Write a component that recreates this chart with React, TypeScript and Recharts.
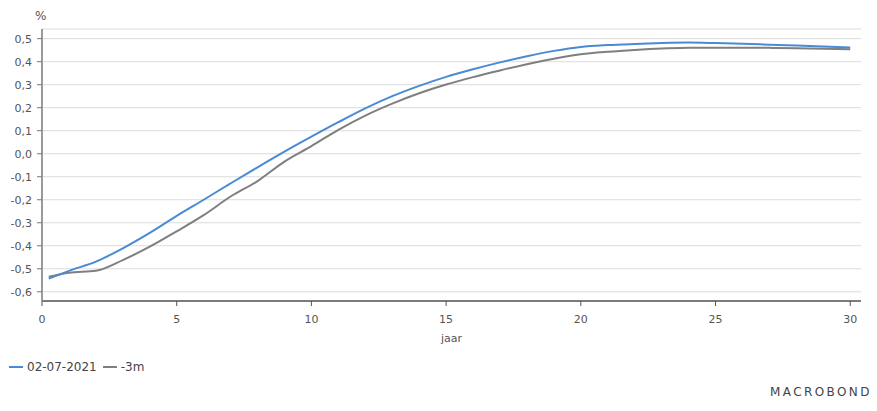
import React from 'react';
import { LineChart, Line, XAxis, YAxis, CartesianGrid } from 'recharts';

const maturities = [0.25, 1, 2, 3, 4, 5, 6, 7, 8, 9, 10, 11, 12, 13, 14, 15, 16, 17, 18, 19, 20, 21, 22, 23, 24, 25, 26, 27, 28, 29, 30];

const current = [
  -0.543, -0.509, -0.469, -0.411, -0.344, -0.27, -0.2, -0.129, -0.059, 0.009, 0.074,
  0.137, 0.197, 0.25, 0.295, 0.334, 0.367, 0.397, 0.424, 0.447, 0.464, 0.472, 0.477,
  0.481, 0.483, 0.481, 0.478, 0.474, 0.47, 0.466, 0.462,
];

const threeMonthsAgo = [
  -0.535, -0.517, -0.509, -0.462, -0.404, -0.337, -0.267, -0.186, -0.119, -0.034, 0.033,
  0.104, 0.166, 0.218, 0.263, 0.301, 0.333, 0.362, 0.389, 0.413, 0.432, 0.443, 0.451,
  0.457, 0.46, 0.461, 0.461, 0.46, 0.458, 0.456, 0.454,
];

const xTicks = [0, 5, 10, 15, 20, 25, 30];
const yTicks = [-0.6, -0.5, -0.4, -0.3, -0.2, -0.1, 0, 0.1, 0.2, 0.3, 0.4, 0.5];

const BLUE = '#4a8ad4';
const GRAY = '#7f7f7f';
const FONT = '"DejaVu Sans", Verdana, sans-serif';

const data = maturities.map((m, i) => ({
  m,
  current: current[i],
  prev: threeMonthsAgo[i],
}));

const fmt = (v: number) => v.toFixed(1).replace('.', ',');

export default function App() {
  return (
    <div style={{ position: 'absolute', left: 0, top: 0, width: 877, height: 411, fontFamily: FONT, background: '#fff' }}>
      <LineChart width={877} height={411} data={data} margin={{ top: 29, right: 16, left: 0, bottom: 80 }}>
        <CartesianGrid vertical={false} stroke="#dcdcdc" />
        <XAxis
          dataKey="m"
          type="number"
          domain={[0, 30.4]}
          ticks={xTicks}
          allowDataOverflow
          height={30}
          tickSize={5}
          tickMargin={9}
          stroke="#444"
          tick={{ fill: '#555', fontSize: 11, fontFamily: FONT }}
          axisLine={{ stroke: '#555', strokeWidth: 1.5 }}
          tickLine={{ stroke: '#555' }}
        />
        <XAxis xAxisId="top" orientation="top" type="number" domain={[0, 30.4]} height={0} tick={false} tickLine={false} axisLine={{ stroke: '#9a9a9a', strokeWidth: 2 }} />
        <YAxis
          type="number"
          domain={[-0.64, 0.542]}
          ticks={yTicks}
          allowDataOverflow
          width={42}
          tickSize={5}
          tickMargin={5}
          tickFormatter={fmt}
          tick={{ fill: '#555', fontSize: 11, fontFamily: FONT }}
          axisLine={{ stroke: '#9a9a9a', strokeWidth: 2 }}
          tickLine={{ stroke: '#777' }}
        />
        <YAxis yAxisId="right" orientation="right" domain={[-0.64, 0.542]} width={0} tick={false} tickLine={false} axisLine={{ stroke: '#333', strokeWidth: 1.5 }} />
        <Line type="monotone" dataKey="prev" stroke={GRAY} strokeWidth={2} dot={false} isAnimationActive={false} />
        <Line type="monotone" dataKey="current" stroke={BLUE} strokeWidth={2} dot={false} isAnimationActive={false} />
      </LineChart>
      <div style={{ position: 'absolute', left: 35, top: 9, fontSize: 12, color: '#555' }}>%</div>
      <div style={{ position: 'absolute', left: 441, top: 332, fontSize: 11, color: '#555' }}>jaar</div>
      <div style={{ position: 'absolute', left: 9, top: 360, fontSize: 12, color: '#444', display: 'flex', alignItems: 'center' }}>
        <span style={{ display: 'inline-block', width: 14, height: 2, background: BLUE, marginRight: 4 }} />
        <span>02-07-2021</span>
        <span style={{ display: 'inline-block', width: 14, height: 2, background: GRAY, marginLeft: 6, marginRight: 4 }} />
        <span>-3m</span>
      </div>
      <div style={{ position: 'absolute', left: 770, top: 385, fontSize: 12, color: '#444', letterSpacing: 2.4 }}>MACROBOND</div>
    </div>
  );
}
